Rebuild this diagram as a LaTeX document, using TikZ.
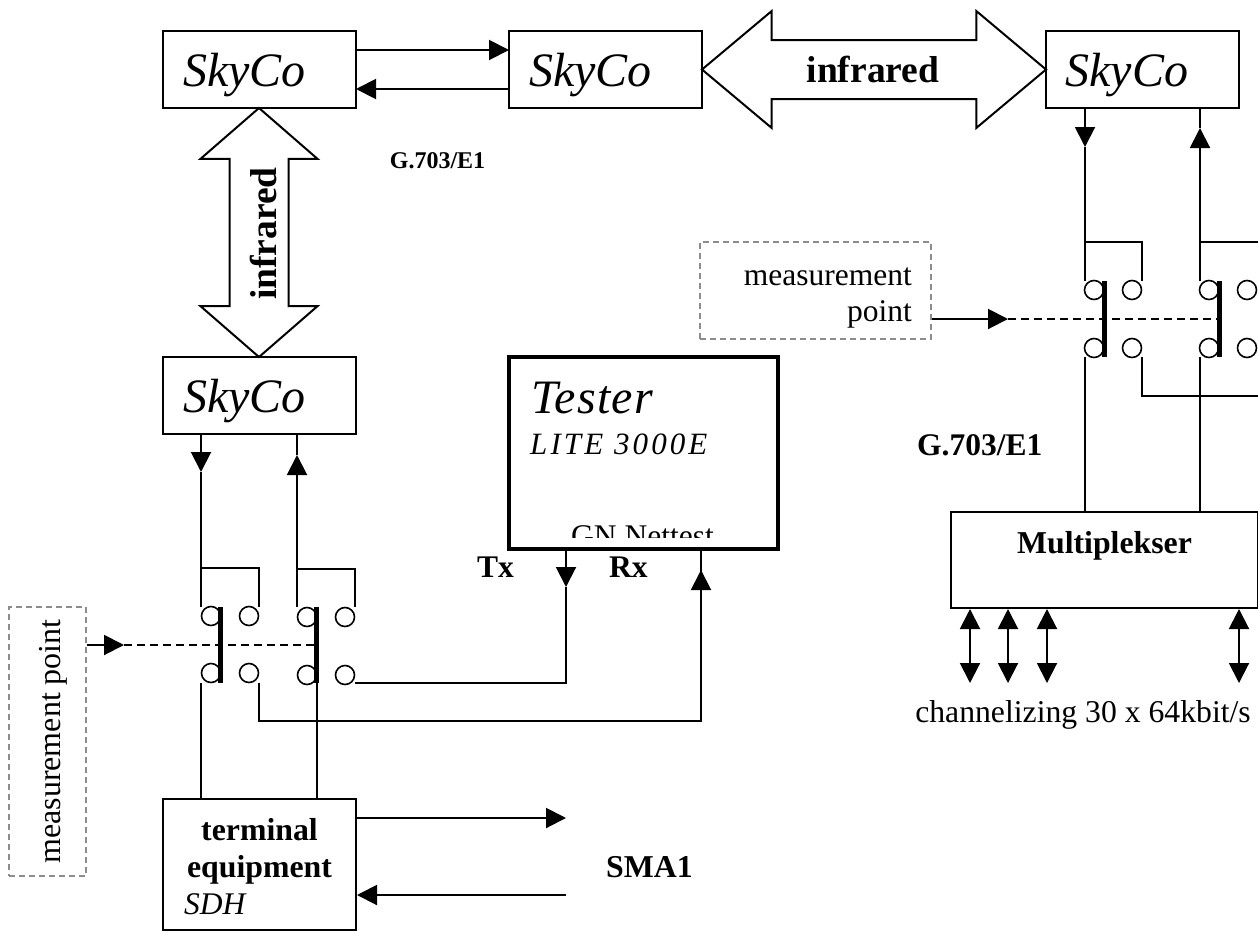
\documentclass[tikz,border=0pt]{standalone}
\usepackage{fontspec}
\setmainfont{Liberation Serif}
\newfontfamily\spacedit[LetterSpace=10,ItalicFont={Liberation Serif Italic}]{Liberation Serif}
\newfontfamily\spacedbig[LetterSpace=2.5,ItalicFont={Liberation Serif Italic}]{Liberation Serif}
\usetikzlibrary{shapes.arrows, arrows.meta, positioning}
\newcommand{\fsize}[1]{\fontsize{#1}{#1}\selectfont}
\tikzstyle{skyco} = [rectangle, draw=black, line width=2pt, minimum width=193pt, minimum height=77pt, text width=153pt, text height=33pt, text depth=0pt, inner sep=0pt, align=left, font=\fsize{48}\itshape]
\tikzstyle{unit} = [rectangle, draw=black, line width=2pt, inner sep=0pt]
\tikzstyle{contact} = [circle, draw=black, line width=1.6pt, minimum size=19pt, inner sep=0pt]
\tikzstyle{wire} = [line width=2pt]
\tikzstyle{arrow} = [line width=2pt, -{Triangle[length=20pt,width=20pt]}]
\tikzstyle{both} = [line width=2pt, {Triangle[length=20pt,width=20pt]}-{Triangle[length=20pt,width=20pt]}]
\tikzstyle{bar} = [line width=5pt]
\tikzstyle{link} = [line width=2pt, dash pattern=on 8pt off 5pt]
\tikzstyle{probe} = [rectangle, draw=black!45, line width=2pt, dash pattern=on 6pt off 4pt, inner sep=0pt]
\tikzstyle{beam} = [double arrow, draw=black, fill=white, line width=2pt, text width=1pt, text height=57pt, text depth=0pt, double arrow head extend=29pt, inner sep=0pt]
\tikzstyle{label} = [inner sep=0pt, font=\fsize{31.5}]
\begin{document}
\begin{tikzpicture}[x=1pt, y=-1pt]
    \useasboundingbox (0,0) rectangle (1258,932);
    % top row and left repeater
    \node (skyA) [skyco] at (259.5,69.5) {SkyCo};
    \node (skyB) [skyco] at (605.5,69.5) {SkyCo};
    \node (skyC) [skyco] at (1142,69.5) {SkyCo};
    \node (skyD) [skyco] at (259.5,395.5) {SkyCo};
    \node (beamH) [beam, minimum height=344pt, double arrow tip angle=80] at (874,69.5) {};
    \node (beamHtext) [label, anchor=base, font=\fsize{37.5}\bfseries] at (873,82) {infrared};
    \node (beamV) [beam, minimum height=249pt, double arrow tip angle=98, rotate=90] at (259,232.5) {};
    \node (beamVtext) [label, anchor=base, rotate=90, font=\fsize{37.5}\bfseries] at (276,233.5) {infrared};
    \coordinate (ab) at (509,50);
    \coordinate (ba) at (356,89);
    \draw[arrow] (skyA.east |- ab) -- (ab);
    \draw[arrow] (skyB.west |- ba) -- (ba);
    \node (g703small) [label, font=\fsize{24}\bfseries] at (437.5,161) {G.703/E1};
    % left switches
    \node (c1) [contact] at (211,616) {};
    \node (c2) [contact] at (249,616) {};
    \node (c3) [contact] at (211,673) {};
    \node (c4) [contact] at (249,673) {};
    \node (c5) [contact] at (307,617) {};
    \node (c6) [contact] at (345,617) {};
    \node (c7) [contact] at (307,675) {};
    \node (c8) [contact] at (345,675) {};
    \coordinate (barAt) at (220.5,607);
    \coordinate (barAb) at (220.5,683);
    \coordinate (barBt) at (316.5,607);
    \coordinate (barBb) at (316.5,683);
    \draw[bar] (barAt) -- (barAb);
    \draw[bar] (barBt) -- (barBb);
    \coordinate (j1) at (201,568);
    \coordinate (j2) at (297,569);
    \coordinate (m1) at (201,472);
    \coordinate (m2) at (297,455);
    \draw[arrow] (j1 |- skyD.south) -- (m1);
    \draw[wire] (m1) -- (j1) -- (201,607);
    \draw[wire] (j1) -- (259,568) -- (259,607);
    \draw[wire] (297,607) -- (j2);
    \draw[arrow] (j2) -- (m2);
    \draw[wire] (m2) -- (j2 |- skyD.south);
    \draw[wire] (j2) -- (355,569) -- (355,607);
    % tester
    \node (tester) [unit, line width=4pt, minimum width=269pt, minimum height=192pt] at (643.5,453) {};
    \node (testerA) [label, anchor=base west, font=\fsize{48}\spacedbig\itshape] at (531,413) {Tester};
    \node (testerB) [label, anchor=base west, font=\fsize{31}\spacedit\itshape] at (530,454) {LITE 3000E};
    \begin{scope}
        \clip (512,500) rectangle (775,537);
        \node (testerC) [label, anchor=base] at (642.5,546) {GN Nettest};
    \end{scope}
    \node (tx) [label, anchor=base west, font=\fsize{31.5}\bfseries] at (477,577) {Tx};
    \node (rx) [label, anchor=base west, font=\fsize{31.5}\bfseries] at (609,577) {Rx};
    \coordinate (txm) at (566,587);
    \coordinate (rxm) at (701,570);
    \draw[arrow] (566,550) -- (txm);
    \draw[wire] (txm) -- (566,683) -- (355,683);
    \draw[wire] (259,683) -- (259,721) -- (701,721) -- (rxm);
    \draw[arrow] (701,600) -- (rxm);
    \draw[wire] (rxm) -- (701,550);
    % terminal
    \node (term) [unit, minimum width=193pt, minimum height=131pt] at (259.5,864.5) {};
    \node (termA) [label, anchor=base, font=\fsize{31.8}\bfseries] at (259.5,840) {terminal};
    \node (termB) [label, anchor=base, font=\fsize{31.8}\bfseries] at (259.5,877) {equipment};
    \node (termC) [label, anchor=base west, font=\fsize{31.5}\itshape] at (184,914) {SDH};
    \draw[wire] (201,683) -- (201,799);
    \draw[wire] (317,683) -- (317,799);
    \coordinate (smaO) at (566,818);
    \coordinate (smaI) at (566,895);
    \draw[arrow] (term.east |- smaO) -- (smaO);
    \draw[arrow] (smaI) -- (term.east |- smaI);
    \node (sma) [label, anchor=base west, font=\fsize{31.8}\bfseries] at (606,877) {SMA1};
    % left probe
    \node (probeA) [probe, minimum width=77pt, minimum height=269pt] at (47.5,741.5) {};
    \node (probeAtext) [label, anchor=base, rotate=90, font=\fsize{32}] at (60,741.5) {measurement point};
    \coordinate (pa) at (124,645);
    \draw[arrow] (probeA.east |- pa) -- (pa);
    \draw[link] (pa) -- (barBt |- pa);
    % right switches
    \node (d1) [contact] at (1094,290) {};
    \node (d2) [contact] at (1132,290) {};
    \node (d3) [contact] at (1094,348) {};
    \node (d4) [contact] at (1132,348) {};
    \node (d5) [contact] at (1209,290) {};
    \node (d6) [contact] at (1247,290) {};
    \node (d7) [contact] at (1209,348) {};
    \node (d8) [contact] at (1247,348) {};
    \coordinate (barCt) at (1104,281);
    \coordinate (barCb) at (1104,357);
    \coordinate (barDt) at (1219,281);
    \coordinate (barDb) at (1219,357);
    \draw[bar] (barCt) -- (barCb);
    \draw[bar] (barDt) -- (barDb);
    \coordinate (k1) at (1085,242);
    \coordinate (k2) at (1200,242);
    \coordinate (n1) at (1085,147);
    \coordinate (n2) at (1200,128);
    \draw[arrow] (k1 |- skyC.south) -- (n1);
    \draw[wire] (n1) -- (k1) -- (1085,281);
    \draw[wire] (k1) -- (1142,242) -- (1142,281);
    \draw[wire] (1200,281) -- (k2);
    \draw[arrow] (k2) -- (n2);
    \draw[wire] (n2) -- (k2 |- skyC.south);
    \draw[wire] (k2) -- (1258,242);
    % multiplexer
    \node (mux) [unit, minimum width=307pt, minimum height=96pt] at (1104.5,560) {};
    \node (muxtext) [label, anchor=base, font=\fsize{31.8}\bfseries] at (1104.5,553) {Multiplekser};
    \draw[wire] (1085,357) -- (1085,512);
    \draw[wire] (1200,357) -- (1200,512);
    \draw[wire] (1142,357) -- (1142,396) -- (1258,396);
    \node (g703) [label, anchor=base west, font=\fsize{31.5}\bfseries] at (917,455) {G.703/E1};
    \foreach \name/\xpos in {a/970,b/1008,c/1047,d/1239} {
        \coordinate (ch\name) at (\xpos,683);
        \draw[both] (mux.south -| ch\name) -- (ch\name);
    }
    \node (chan) [label, anchor=base, font=\fsize{31.7}] at (1083,722) {channelizing 30 x 64kbit/s};
    % right probe
    \node (probeB) [probe, minimum width=231pt, minimum height=97pt] at (815.5,290.5) {};
    \node (probeBa) [label, anchor=base east] at (912,285) {measurement};
    \node (probeBb) [label, anchor=base east] at (912,321) {point};
    \coordinate (pb) at (1008,319);
    \draw[arrow] (probeB.east |- pb) -- (pb);
    \draw[link] (pb) -- (barDt |- pb);
\end{tikzpicture}
\end{document}
